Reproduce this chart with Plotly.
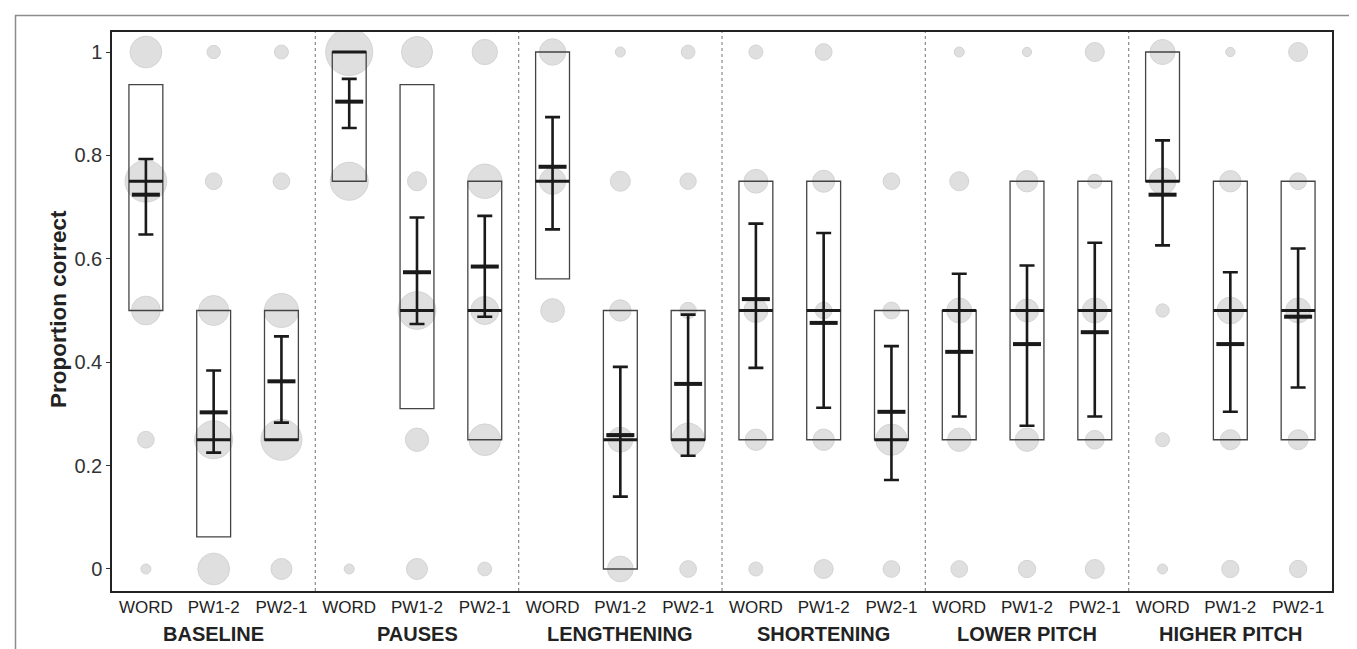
import plotly.graph_objects as go

# ---------------- data ----------------
groups = ["BASELINE", "PAUSES", "LENGTHENING", "SHORTENING", "LOWER PITCH", "HIGHER PITCH"]
conditions = ["WORD", "PW1-2", "PW2-1"]
levels = [0, 0.25, 0.5, 0.75, 1]
y_ticks = [0, 0.2, 0.4, 0.6, 0.8, 1]
y_tick_labels = ["0", "0.2", "0.4", "0.6", "0.8", "1"]

# bubble diameters (px) for responses at levels 0, .25, .5, .75, 1 (0 = no bubble)
bubble_sizes = [
    [10, 16.7, 28.7, 41.7, 31.7],
    [31.7, 38, 30, 16.7, 13.3],
    [21, 41, 34, 16.7, 14],
    [10, 0, 0, 38, 47],
    [21, 23.3, 37.7, 19, 31],
    [13.7, 31.7, 28, 34.3, 25.3],
    [0, 0, 23.7, 26.3, 26.3],
    [25.7, 25, 21.3, 20, 10],
    [16.7, 33, 16.3, 16.3, 13.7],
    [14, 21.3, 24, 23.7, 14],
    [19, 21.3, 16.7, 22, 16.7],
    [16.7, 31.3, 16.7, 16.7, 0],
    [16.7, 23.3, 25, 19, 10],
    [17.3, 23.3, 23, 21.3, 9.3],
    [19, 18.7, 25, 14, 19],
    [10, 14, 13.3, 26.7, 25],
    [17.3, 20, 26.7, 21.3, 9.3],
    [17.3, 20, 25, 16.7, 19],
]

box_low = [0.5, 0.062, 0.25, 0.75, 0.31, 0.25, 0.561, 0.0, 0.25,
           0.25, 0.25, 0.25, 0.25, 0.25, 0.25, 0.75, 0.25, 0.25]
box_high = [0.937, 0.5, 0.5, 1.0, 0.937, 0.75, 1.0, 0.5, 0.5,
            0.75, 0.75, 0.5, 0.5, 0.75, 0.75, 1.0, 0.75, 0.75]
medians = [0.75, 0.25, 0.25, 1.0, 0.5, 0.5, 0.75, 0.25, 0.25,
           0.5, 0.5, 0.25, 0.5, 0.5, 0.5, 0.75, 0.5, 0.5]

means = [0.724, 0.303, 0.363, 0.904, 0.574, 0.585, 0.778, 0.259, 0.358,
         0.522, 0.476, 0.304, 0.42, 0.435, 0.458, 0.724, 0.435, 0.488]
err_low = [0.647, 0.225, 0.283, 0.853, 0.474, 0.488, 0.657, 0.14, 0.219,
           0.389, 0.312, 0.172, 0.295, 0.277, 0.295, 0.626, 0.304, 0.351]
err_high = [0.793, 0.384, 0.45, 0.948, 0.68, 0.683, 0.874, 0.391, 0.492,
            0.668, 0.65, 0.431, 0.571, 0.587, 0.631, 0.829, 0.574, 0.62]

# ---------------- build ----------------
n_cat = len(groups) * len(conditions)
xs = list(range(n_cat))
tick_text = [c for g in groups for c in conditions]

bx, by, bs = [], [], []
for i in xs:
    for lv, s in zip(levels, bubble_sizes[i]):
        if s > 0:
            bx.append(i)
            by.append(lv)
            bs.append(s)

fig = go.Figure()
fig.add_trace(go.Scatter(
    x=bx, y=by, mode="markers",
    marker=dict(size=bs, sizemode="diameter", color="#d2d2d2",
                line=dict(color="#c2c2c2", width=1)),
    hoverinfo="skip", showlegend=False,
))

shapes = []
half_w = 0.25
for i in xs:
    shapes.append(dict(type="rect", xref="x", yref="y",
                       x0=i - half_w, x1=i + half_w, y0=box_low[i], y1=box_high[i],
                       line=dict(color="#444444", width=1.3), layer="above"))
    shapes.append(dict(type="line", xref="x", yref="y",
                       x0=i - half_w, x1=i + half_w, y0=medians[i], y1=medians[i],
                       line=dict(color="#1a1a1a", width=3), layer="above"))

fig.add_trace(go.Scatter(
    x=xs, y=means, mode="markers",
    marker=dict(symbol="line-ew", size=20, color="#1a1a1a",
                line=dict(color="#1a1a1a", width=4)),
    error_y=dict(type="data", symmetric=False,
                 array=[h - m for h, m in zip(err_high, means)],
                 arrayminus=[m - l for m, l in zip(means, err_low)],
                 color="#1a1a1a", thickness=2.6, width=7.5),
    hoverinfo="skip", showlegend=False,
))

# group separators
for k in range(1, len(groups)):
    xsep = k * len(conditions) - 0.5
    shapes.append(dict(type="line", xref="x", yref="paper", x0=xsep, x1=xsep, y0=0, y1=1,
                       line=dict(color="#8a8a8a", width=1.2, dash="dot"), layer="below"))

# outer figure frame
L, R, T, B = 104, 33, 24, 66
W, H = 1357, 649
pw, ph = W - L - R, H - T - B
shapes.append(dict(type="rect", xref="paper", yref="paper",
                   x0=(7.5 - L) / pw, x1=(1356 - L) / pw,
                   y0=(H - B - 670) / ph, y1=(H - B - 7.5) / ph,
                   line=dict(color="#8c8c8c", width=1.5), layer="below"))

annotations = []
for gi, g in enumerate(groups):
    annotations.append(dict(x=gi * len(conditions) + 1, y=-43 / ph, xref="x", yref="paper",
                            text="<b>%s</b>" % g, showarrow=False,
                            xanchor="center", yanchor="middle",
                            font=dict(family="Liberation Sans, Arial, sans-serif", size=20, color="#222222")))
annotations.append(dict(x=(50.5 - L) / pw, y=(H - B - 301.5) / ph, xref="paper", yref="paper",
                        text="<b>Proportion correct</b>", textangle=-90, showarrow=False,
                        xanchor="center", yanchor="middle",
                        font=dict(family="Liberation Sans Narrow, Liberation Sans, Arial, sans-serif",
                                  size=22.5, color="#222222")))

fig.update_layout(
    width=W, height=H,
    margin=dict(l=L, r=R, t=T, b=B),
    paper_bgcolor="white", plot_bgcolor="white",
    shapes=shapes, annotations=annotations,
    showlegend=False,
    xaxis=dict(range=[-0.5, n_cat - 0.5], tickmode="array", tickvals=xs, ticktext=tick_text,
               showgrid=False, zeroline=False, showline=True, linecolor="#222222", linewidth=1.5,
               mirror=True, ticks="",
               tickfont=dict(family="Liberation Sans, Arial, sans-serif", size=17, color="#222222")),
    yaxis=dict(range=[-0.0426, 1.0387], tickmode="array", tickvals=y_ticks, ticktext=y_tick_labels,
               showgrid=False, zeroline=False, showline=True, linecolor="#222222", linewidth=1.5,
               mirror=True, ticks="outside", ticklen=4, tickcolor="#333333", tickwidth=1,
               tickfont=dict(family="Liberation Sans, Arial, sans-serif", size=20, color="#333333")),
)

fig.write_html("out.html")
